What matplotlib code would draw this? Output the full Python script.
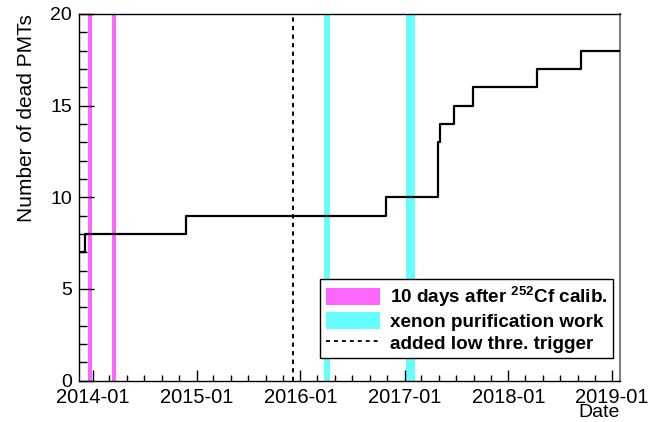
import datetime as dt
import matplotlib
matplotlib.use("Agg")
import matplotlib.pyplot as plt
import matplotlib.dates as mdates
from matplotlib.patches import Patch
from matplotlib.lines import Line2D

plt.rcParams['font.family'] = ['Liberation Sans', 'DejaVu Sans']
plt.rcParams['mathtext.fontset'] = 'custom'
plt.rcParams['mathtext.rm'] = 'Liberation Sans'
plt.rcParams['mathtext.bf'] = 'Liberation Sans:bold'

D = dt.date

# number of dead PMTs (step changes)
change_dates = [D(2013, 11, 13), D(2013, 12, 6), D(2014, 11, 26), D(2016, 10, 28),
                D(2017, 4, 27), D(2017, 5, 6), D(2017, 6, 25), D(2017, 8, 30),
                D(2018, 4, 11), D(2018, 9, 14), D(2019, 1, 27)]
n_dead = [7, 8, 9, 10, 13, 14, 15, 16, 17, 18, 18]

# periods: 10 days after 252Cf calibration
cf_start = [D(2013, 12, 16), D(2014, 3, 11)]
cf_end = [D(2013, 12, 28), D(2014, 3, 23)]
# xenon purification work
pur_start = [D(2016, 3, 24), D(2017, 1, 6)]
pur_end = [D(2016, 4, 14), D(2017, 2, 7)]
# low threshold trigger added
trigger_date = D(2015, 12, 7)

x_range = (D(2013, 11, 13), D(2019, 1, 27))
y_range = (0, 20)

fig = plt.figure(figsize=(6.67, 4.22), dpi=100)
ax = fig.add_axes([0.118, 0.098, 0.811, 0.869])

magenta = '#ff66ff'
cyan = '#66ffff'
for s, e in zip(cf_start, cf_end):
    ax.axvspan(s, e, color=magenta, lw=0, zorder=1)
for s, e in zip(pur_start, pur_end):
    ax.axvspan(s, e, color=cyan, lw=0, zorder=1)
ax.axvline(trigger_date, color='black', ls=(0, (2.2, 2.2)), lw=1.4, zorder=2)

ax.step(change_dates, n_dead, where='post', color='black', lw=1.6, zorder=3)

ax.set_xlim(*x_range)
ax.set_ylim(*y_range)

ax.xaxis.set_major_locator(mdates.YearLocator())
ax.xaxis.set_minor_locator(mdates.MonthLocator(bymonth=[3, 5, 7, 9, 11]))
ax.xaxis.set_major_formatter(mdates.DateFormatter('%Y-%m'))
ax.set_yticks(range(0, 21, 5))
ax.set_yticks(range(0, 21), minor=True)

ax.tick_params(axis='both', which='both', direction='in', top=False, right=False,
               width=1)
ax.tick_params(axis='y', which='major', length=11, pad=5, labelsize=14)
ax.tick_params(axis='y', which='minor', length=5.5)
ax.tick_params(axis='x', which='major', length=8, pad=5.5, labelsize=14.5)
ax.tick_params(axis='x', which='minor', length=4.3)

for side in ['left', 'bottom', 'top']:
    ax.spines[side].set_color('black')
    ax.spines[side].set_linewidth(1)
ax.spines['right'].set_color('#808080')
ax.spines['right'].set_linewidth(1.5)

ax.set_ylabel('Number of dead PMTs', fontsize=15, loc='top', labelpad=10)
# x title sits right-aligned under the last tick label, as in the original
fig.text(0.929, 0.012, 'Date', fontsize=14, ha='right', va='baseline')

handles = [Patch(facecolor=magenta, edgecolor='none'),
           Patch(facecolor=cyan, edgecolor='none'),
           Line2D([0], [0], color='black', ls=(0, (2.2, 2.2)), lw=1.3)]
labels = [r'10 days after $^{\mathbf{252}}$Cf calib.', 'xenon purification work',
          'added low thre. trigger']
leg = ax.legend(handles, labels, loc='lower right', bbox_to_anchor=(0.988, 0.061),
                prop={'weight': 'bold', 'size': 13.6}, frameon=True, fancybox=False,
                framealpha=1, edgecolor='black', handlelength=2.9, handleheight=1.0,
                borderpad=0.3, labelspacing=0.15, handletextpad=0.5, borderaxespad=0)
leg.get_frame().set_linewidth(1)

fig.savefig('out.png', dpi=100)
